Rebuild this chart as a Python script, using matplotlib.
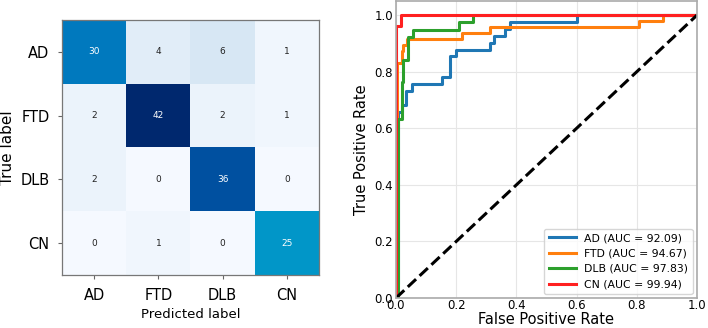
import numpy as np
import matplotlib
matplotlib.use("Agg")
import matplotlib.pyplot as plt
from matplotlib.colors import LinearSegmentedColormap

classes = ["AD", "FTD", "DLB", "CN"]
conf_matrix = np.array([
    [30, 4, 6, 1],
    [2, 42, 2, 1],
    [2, 0, 36, 0],
    [0, 1, 0, 25],
])

# ROC step curves (fpr, tpr)
ad_fpr = [0.0, 0.0, 0.006, 0.006, 0.021, 0.021, 0.033, 0.033, 0.052, 0.052, 0.152, 0.152, 0.18, 0.18,
          0.2, 0.2, 0.313, 0.313, 0.324, 0.324, 0.363, 0.363, 0.38, 0.38, 0.602, 0.602, 1.0]
ad_tpr = [0.0, 0.049, 0.049, 0.659, 0.659, 0.683, 0.683, 0.732, 0.732, 0.756, 0.756, 0.78, 0.78, 0.854,
          0.854, 0.878, 0.878, 0.902, 0.902, 0.927, 0.927, 0.951, 0.951, 0.976, 0.976, 1.0, 1.0]
ftd_fpr = [0.0, 0.003, 0.003, 0.019, 0.019, 0.022, 0.022, 0.036, 0.036, 0.219, 0.219, 0.313, 0.313,
           0.808, 0.808, 0.886, 0.886, 1.0]
ftd_tpr = [0.0, 0.0, 0.83, 0.83, 0.872, 0.872, 0.894, 0.894, 0.915, 0.915, 0.936, 0.936, 0.957,
           0.957, 0.979, 0.979, 1.0, 1.0]
dlb_fpr = [0.0, 0.007, 0.007, 0.019, 0.019, 0.022, 0.022, 0.041, 0.041, 0.057, 0.057, 0.21, 0.21,
           0.256, 0.256, 1.0]
dlb_tpr = [0.0, 0.0, 0.632, 0.632, 0.763, 0.763, 0.842, 0.842, 0.921, 0.921, 0.947, 0.947, 0.974,
           0.974, 1.0, 1.0]
cn_fpr = [0.0, 0.0, 0.016, 0.016, 1.0]
cn_tpr = [0.0, 0.961, 0.961, 1.0, 1.0]
auc_values = [92.09, 94.67, 97.83, 99.94]
roc_colors = ["#1f77b4", "#ff7f0e", "#2ca02c", "#ff2020"]

cmap = LinearSegmentedColormap.from_list(
    "cm_blues",
    [(0.0, "#f5f9ff"), (0.15, "#d6e6f4"), (0.6, "#0096c8"), (0.72, "#0078be"),
     (0.86, "#0050a0"), (1.0, "#00286e")])

fig = plt.figure(figsize=(7.08, 3.28), dpi=100)

# Confusion matrix
ax1 = fig.add_axes([62 / 708, (328 - 275) / 328, 257 / 708, 255 / 328])
ax1.imshow(conf_matrix, cmap=cmap, vmin=0, vmax=conf_matrix.max(), aspect="auto")
n = len(classes)
for i in range(n):
    for j in range(n):
        v = conf_matrix[i, j]
        ax1.text(j, i, str(v), ha="center", va="center", fontsize=6.5,
                 color="white" if v > 20 else "#222222")
ax1.set_xticks(range(n))
ax1.set_yticks(range(n))
ax1.set_xticklabels(classes, fontsize=10.5)
ax1.set_yticklabels(classes, fontsize=10.5)
ax1.set_xlabel("Predicted label", fontsize=9.5)
ax1.set_ylabel("True label", fontsize=11)
ax1.tick_params(axis="both", length=3, color="#666666", pad=6)
for s in ax1.spines.values():
    s.set_color("#777777")
    s.set_linewidth(0.9)

# ROC
ax2 = fig.add_axes([396 / 708, (328 - 298) / 328, 301 / 708, 297 / 328])
curves = [(ad_fpr, ad_tpr), (ftd_fpr, ftd_tpr), (dlb_fpr, dlb_tpr), (cn_fpr, cn_tpr)]
for (fx, ty), name, auc, c in zip(curves, classes, auc_values, roc_colors):
    ax2.plot(fx, ty, color=c, lw=2.2, label=f"{name} (AUC = {auc:.2f})")
ax2.plot([0, 1], [0, 1], "k--", lw=2.2)
ax2.set_xlim(0, 1.0)
ax2.set_ylim(0, 1.05)
ax2.set_xticks(np.arange(0, 1.01, 0.2))
ax2.set_yticks(np.arange(0, 1.01, 0.2))
ax2.tick_params(axis="y", labelsize=8.5, length=0, pad=2)
ax2.tick_params(axis="x", labelsize=8.5, length=0, pad=0.5)
ax2.grid(True, color="#e6e6e6", lw=0.8)
ax2.set_xlabel("False Positive Rate", fontsize=10.5, labelpad=0)
ax2.set_ylabel("True Positive Rate", fontsize=10.5)
for s in ax2.spines.values():
    s.set_color("#aaaaaa")
    s.set_linewidth(1.2)
ax2.legend(loc="lower right", fontsize=7.8, frameon=True, edgecolor="#cccccc",
           handlelength=2.5, borderaxespad=0.4)

fig.savefig("out.png", dpi=100)
